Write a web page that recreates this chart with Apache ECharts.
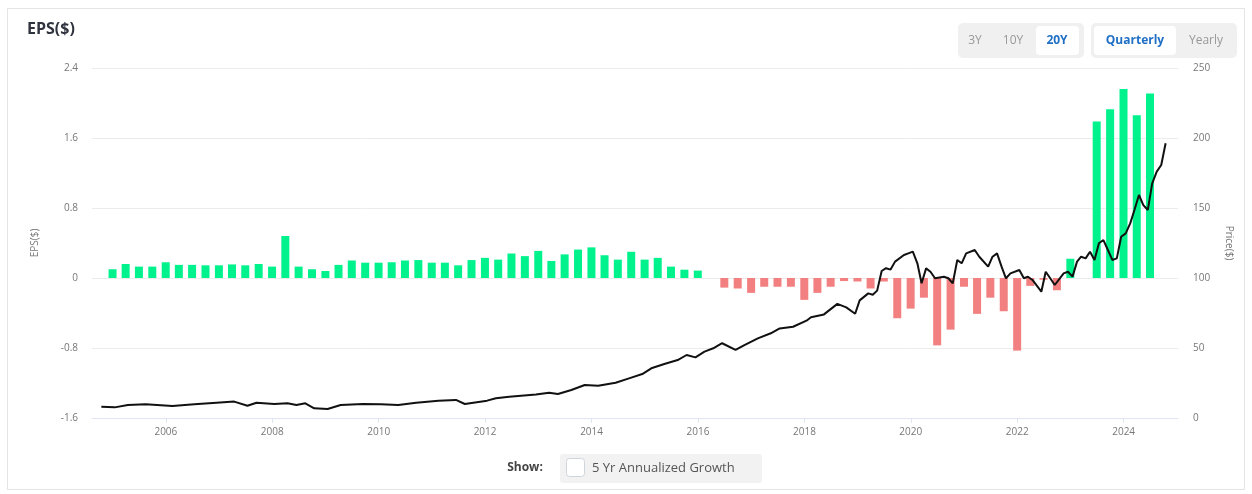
<!DOCTYPE html>
<html><head><meta charset="utf-8">
<script src="https://cdn.jsdelivr.net/npm/echarts@6/dist/echarts.min.js"></script>
<style>html,body{margin:0;padding:0;background:#fff;}#c{width:1252px;height:494px;}</style>
</head><body><div id="c"></div>
<script>
// ---- data ----
const epsFirstQuarterEnd = [2004, 12];   // year, month of first quarter end
const epsValues = [
  0.10, 0.16, 0.13, 0.13, 0.18, 0.15, 0.15, 0.145, 0.145, 0.155,
  0.145, 0.16, 0.13, 0.48, 0.13, 0.10, 0.08, 0.15, 0.20, 0.175,
  0.175, 0.18, 0.20, 0.205, 0.175, 0.175, 0.145, 0.205, 0.23, 0.21,
  0.28, 0.25, 0.31, 0.195, 0.27, 0.325, 0.35, 0.26, 0.21, 0.30,
  0.21, 0.23, 0.13, 0.095, 0.085, 0, -0.11, -0.12, -0.17, -0.10,
  -0.10, -0.10, -0.25, -0.17, -0.10, -0.035, -0.04, -0.12, -0.04, -0.46,
  -0.35, -0.225, -0.77, -0.59, -0.10, -0.41, -0.225, -0.38, -0.83, -0.09,
  -0.02, -0.14, 0.22, 0, 1.79, 1.93, 2.16, 1.86, 2.11
];
const priceDates = [
  '2004-10','2005-01','2005-04','2005-08','2006-02','2006-07','2006-12','2007-04','2007-07','2007-09',
  '2008-01','2008-04','2008-06','2008-08','2008-10','2009-01','2009-04','2009-09','2010-01','2010-05',
  '2010-09','2011-02','2011-06','2011-08','2012-01','2012-03','2012-06','2012-12','2013-03','2013-05',
  '2013-08','2013-11','2014-02','2014-06','2014-09','2014-12','2015-02','2015-05','2015-08','2015-10',
  '2015-12','2016-02','2016-04','2016-06','2016-09','2016-11','2017-02','2017-05','2017-07','2017-10',
  '2018-01','2018-02','2018-05','2018-08','2018-10','2018-12','2019-01','2019-03','2019-04','2019-05',
  '2019-06','2019-07','2019-08','2019-09','2019-11','2019-12','2020-01','2020-02','2020-03','2020-04',
  '2020-05','2020-06','2020-08','2020-09','2020-10','2020-11','2020-12','2021-01','2021-03','2021-04',
  '2021-06','2021-07','2021-08','2021-09','2021-10','2021-11','2022-01','2022-02','2022-03','2022-04',
  '2022-06','2022-07','2022-08','2022-09','2022-11','2022-12','2023-01','2023-02','2023-03','2023-04',
  '2023-05','2023-06','2023-07','2023-08','2023-09','2023-10','2023-11','2023-12','2024-01','2024-02',
  '2024-03','2024-04','2024-05','2024-06','2024-07','2024-08','2024-09','2024-10'
];
const prices = [
  8.1, 7.6, 9.3, 9.8, 8.6, 9.8, 10.9, 11.7, 8.8, 10.9,
  10.0, 10.5, 9.3, 10.5, 6.9, 6.4, 9.3, 10.0, 9.8, 9.3,
  10.9, 12.4, 12.9, 10.0, 12.4, 14.1, 15.2, 16.8, 18.1, 17.1,
  20.0, 23.6, 23.1, 25.2, 28.3, 31.4, 35.5, 38.6, 41.4, 45.0,
  43.3, 47.4, 49.8, 53.4, 48.6, 52.1, 56.9, 60.5, 64.0, 65.2,
  69.5, 72.0, 74.0, 81.5, 79.0, 74.5, 84.0, 89.0, 88.0, 91.0,
  105.0, 107.0, 106.0, 111.7, 116.4, 117.6, 118.8, 110.5, 96.2, 106.9,
  104.5, 99.8, 100.9, 99.8, 96.2, 112.9, 110.5, 117.6, 120.0, 115.2,
  108.1, 115.2, 117.6, 108.1, 99.8, 103.3, 105.7, 99.8, 100.9, 98.6,
  90.2, 104.5, 99.8, 95.0, 103.3, 104.5, 101.0, 111.7, 115.2, 114.0,
  118.8, 112.9, 124.8, 127.1, 120.0, 112.9, 114.0, 129.5, 131.9, 139.0,
  148.6, 159.3, 152.1, 148.6, 167.6, 176.0, 180.7, 196.2
];
const yearTickLabels = ['2006','2008','2010','2012','2014','2016','2018','2020','2022','2024'];
const epsTicks = [-1.6, -0.8, 0, 0.8, 1.6, 2.4];
const priceTicks = [0, 50, 100, 150, 200, 250];
const rangeButtons = ['3Y', '10Y', '20Y'];
const periodButtons = ['Quarterly', 'Yearly'];

// ---- build ----
function quarterEnd(i) {
  const m = epsFirstQuarterEnd[0] * 12 + (epsFirstQuarterEnd[1] - 1) + 3 * i;
  const y = Math.floor(m / 12), mo = m % 12;
  return Date.UTC(y, mo + 1, 0);
}
const barData = epsValues.map((v, i) => [quarterEnd(i), v]);
const lineData = priceDates.map((d, i) => {
  const [y, m] = d.split('-').map(Number);
  return [Date.UTC(y, m - 1, 15), prices[i]];
});
const yearTickValues = yearTickLabels.map(y => Date.UTC(+y, 0, 1));

const FONT = "'Open Sans', 'Noto Sans', sans-serif";
const chart = echarts.init(document.getElementById('c'), null, { renderer: 'canvas' });

chart.setOption({
  animation: false,
  backgroundColor: '#fff',
  grid: { left: 92, right: 74, top: 68, bottom: 76 },
  xAxis: {
    type: 'value',
    min: Date.UTC(2004, 7, 12),
    max: Date.UTC(2025, 0, 8),
    axisLine: { show: true, onZero: false, lineStyle: { color: '#dfe5f2', width: 1 } },
    axisTick: { show: true, customValues: yearTickValues, length: 5, lineStyle: { color: '#dfe5f2' } },
    axisLabel: {
      customValues: yearTickValues,
      formatter: v => String(new Date(v).getUTCFullYear()),
      color: '#777', fontSize: 10, fontFamily: FONT, margin: 9
    },
    splitLine: { show: false }
  },
  yAxis: [
    {
      type: 'value', min: epsTicks[0], max: epsTicks[epsTicks.length - 1], interval: 0.8,
      name: 'EPS($)', nameLocation: 'middle', nameGap: 52, nameRotate: 90,
      nameTextStyle: { color: '#777', fontSize: 10, fontFamily: FONT },
      axisLine: { show: false }, axisTick: { show: false },
      axisLabel: { color: '#777', fontSize: 10, fontFamily: FONT, margin: 14,
        formatter: v => (Math.abs(v) < 1e-9 ? '0' : String(Math.round(v * 10) / 10)) },
      splitLine: { lineStyle: { color: '#ececec', width: 1 } }
    },
    {
      type: 'value', min: priceTicks[0], max: priceTicks[priceTicks.length - 1], interval: 50,
      name: 'Price($)', nameLocation: 'middle', nameGap: 46, nameRotate: -90,
      nameTextStyle: { color: '#777', fontSize: 10, fontFamily: FONT },
      axisLine: { show: false }, axisTick: { show: false },
      axisLabel: { color: '#777', fontSize: 10, fontFamily: FONT, margin: 15 },
      splitLine: { show: false }
    }
  ],
  series: [
    {
      type: 'bar', yAxisIndex: 0, barWidth: 8, data: barData,
      itemStyle: { color: p => (p.value[1] >= 0 ? '#00f28c' : '#f38080') }
    },
    {
      type: 'line', yAxisIndex: 1, data: lineData, showSymbol: false, smooth: false,
      lineStyle: { color: '#111', width: 2 }, z: 5
    }
  ],
  graphic: [
    { type: 'rect', shape: { x: 7.5, y: 8.5, width: 1237, height: 481 }, style: { fill: 'none', stroke: '#e4e4e4', lineWidth: 1 }, silent: true },
    { type: 'text', left: 27, top: 21, style: { text: 'EPS($)', font: "bold 16px 'Open Sans', sans-serif", fill: '#30343f' } },
    { type: 'rect', shape: { x: 958, y: 23, width: 126, height: 35, r: 5 }, style: { fill: '#f0f0f0' } },
    { type: 'rect', shape: { x: 1036, y: 26, width: 43, height: 29, r: 4 }, style: { fill: '#ffffff' } },
    { type: 'text', x: 975, y: 41, style: { text: rangeButtons[0], font: "12px 'Open Sans', sans-serif", fill: '#999', align: 'center', verticalAlign: 'middle' } },
    { type: 'text', x: 1013, y: 41, style: { text: rangeButtons[1], font: "12px 'Open Sans', sans-serif", fill: '#999', align: 'center', verticalAlign: 'middle' } },
    { type: 'text', x: 1057, y: 41, style: { text: rangeButtons[2], font: "bold 12px 'Open Sans', sans-serif", fill: '#1f6fc5', align: 'center', verticalAlign: 'middle' } },
    { type: 'rect', shape: { x: 1091, y: 23, width: 146, height: 35, r: 5 }, style: { fill: '#f0f0f0' } },
    { type: 'rect', shape: { x: 1094, y: 26, width: 82, height: 29, r: 4 }, style: { fill: '#ffffff' } },
    { type: 'text', x: 1135, y: 41, style: { text: periodButtons[0], font: "bold 12px 'Open Sans', sans-serif", fill: '#1f6fc5', align: 'center', verticalAlign: 'middle' } },
    { type: 'text', x: 1206, y: 41, style: { text: periodButtons[1], font: "12px 'Open Sans', sans-serif", fill: '#999', align: 'center', verticalAlign: 'middle' } },
    { type: 'text', x: 525, y: 468, style: { text: 'Show:', font: "bold 12px 'Open Sans', sans-serif", fill: '#444', align: 'center', verticalAlign: 'middle' } },
    { type: 'rect', shape: { x: 560, y: 454, width: 202, height: 29, r: 3 }, style: { fill: '#f2f2f2' } },
    { type: 'rect', shape: { x: 566.5, y: 458.5, width: 18, height: 18, r: 3 }, style: { fill: '#fff', stroke: '#d0d4dc', lineWidth: 1 } },
    { type: 'text', x: 592, y: 468, style: { text: '5 Yr Annualized Growth', font: "13px 'Open Sans', sans-serif", fill: '#555', align: 'left', verticalAlign: 'middle' } }
  ]
});
</script>
</body></html>
